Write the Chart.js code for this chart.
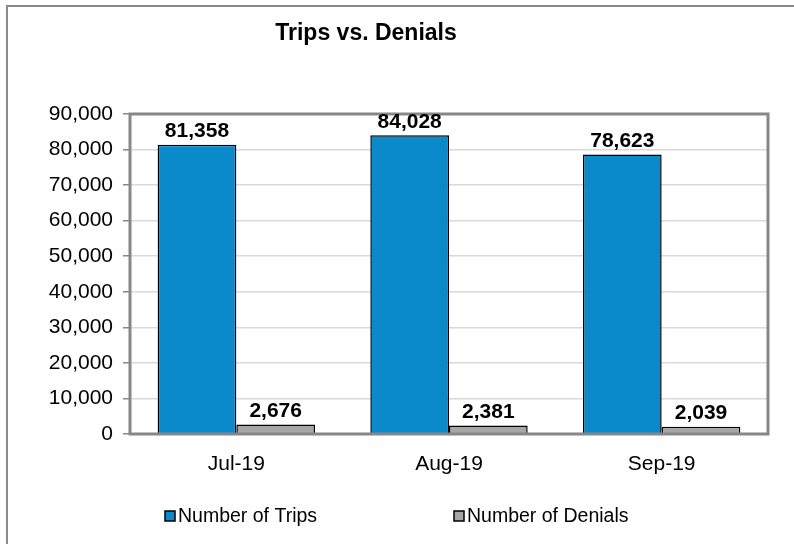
<!DOCTYPE html>
<html>
<head>
<meta charset="utf-8">
<script src="https://cdn.jsdelivr.net/npm/chart.js@4.4.1/dist/chart.umd.min.js"></script>
<style>
  html, body { margin: 0; padding: 0; background: #fff; }
  #wrap { width: 794px; height: 544px; position: relative; }
</style>
</head>
<body>
<div id="wrap"><canvas id="chart" width="794" height="544"></canvas></div>
<script>
// data
const months = ['Jul-19', 'Aug-19', 'Sep-19'];
const trips = [81358, 84028, 78623];
const denials = [2676, 2381, 2039];
const seriesNames = ['Number of Trips', 'Number of Denials'];
const chartTitle = 'Trips vs. Denials';

const FONT = "'Liberation Sans', Arial, sans-serif";
const fmt = (v) => v.toLocaleString('en-US');

// frame, title and the plot border (Excel style)
const decorPlugin = {
    id: 'decor',
    beforeDraw(chart) {
        const ctx = chart.ctx;
        ctx.save();
        ctx.fillStyle = '#fff';
        ctx.fillRect(0, 0, chart.width, chart.height);
        ctx.strokeStyle = '#8a8a8a';
        ctx.lineWidth = 2;
        ctx.beginPath();
        ctx.moveTo(7, chart.height);
        ctx.lineTo(7, 6);
        ctx.lineTo(chart.width, 6);
        ctx.stroke();
        // title
        ctx.fillStyle = '#000';
        ctx.font = 'bold 23px ' + FONT;
        ctx.textAlign = 'center';
        ctx.textBaseline = 'middle';
        ctx.fillText(chartTitle, 366, 34);
        ctx.restore();
    },
    afterDatasetsDraw(chart) {
        const ctx = chart.ctx;
        const a = chart.chartArea;
        ctx.save();
        ctx.strokeStyle = '#878787';
        ctx.lineWidth = 3;
        ctx.strokeRect(a.left, a.top, a.right - a.left, a.bottom - a.top);

        // value labels above bars
        ctx.fillStyle = '#000';
        ctx.font = 'bold 21px ' + FONT;
        ctx.textAlign = 'center';
        ctx.textBaseline = 'bottom';
        chart.data.datasets.forEach((ds, i) => {
            chart.getDatasetMeta(i).data.forEach((bar, j) => {
                ctx.fillText(fmt(ds.data[j]), bar.x, bar.y - 3);
            });
        });

        // legend
        const legendX = [165, 454];
        ctx.font = '19.5px ' + FONT;
        ctx.textAlign = 'left';
        ctx.textBaseline = 'middle';
        chart.data.datasets.forEach((ds, i) => {
            const x = legendX[i], y = 516;
            ctx.fillStyle = ds.backgroundColor;
            ctx.fillRect(x, y - 5, 10, 10);
            ctx.strokeStyle = '#000';
            ctx.lineWidth = 1.5;
            ctx.strokeRect(x, y - 5, 10, 10);
            ctx.fillStyle = '#000';
            ctx.fillText(ds.label, x + 13, y + 1);
        });
        ctx.restore();
    }
};

const config = {
    type: 'bar',
    data: {
        labels: months,
        datasets: [
            {
                label: seriesNames[0],
                data: trips,
                backgroundColor: '#0a8acb',
                borderColor: '#000',
                borderWidth: 1.5,
            },
            {
                label: seriesNames[1],
                data: denials,
                backgroundColor: '#a6a6a6',
                borderColor: '#000',
                borderWidth: 1.5,
            },
        ],
    },
    options: {
        responsive: false,
        animation: false,
        layout: { padding: { left: 0, top: 114, right: 26, bottom: 70 } },
        datasets: {
            bar: { categoryPercentage: 0.74, barPercentage: 1.0 }
        },
        plugins: {
            legend: { display: false },
            title: { display: false },
            tooltip: { enabled: false },
        },
        scales: {
            x: {
                grid: { display: false },
                border: { display: false },
                ticks: { color: '#000', font: { family: FONT, size: 21 }, padding: 10 },
                afterFit: (s) => { s.height = 40; },
            },
            y: {
                min: 0,
                max: 90000,
                ticks: {
                    stepSize: 10000,
                    color: '#000',
                    font: { family: FONT, size: 21 },
                    padding: 10,
                    callback: (v) => fmt(v),
                },
                grid: { color: '#d9d9d9', tickColor: '#878787', tickLength: 7, lineWidth: 1.5 },
                border: { display: false },
                afterFit: (s) => { s.width = 130; },
            },
        },
    },
    plugins: [decorPlugin],
};

new Chart(document.getElementById('chart').getContext('2d'), config);
</script>
</body>
</html>
